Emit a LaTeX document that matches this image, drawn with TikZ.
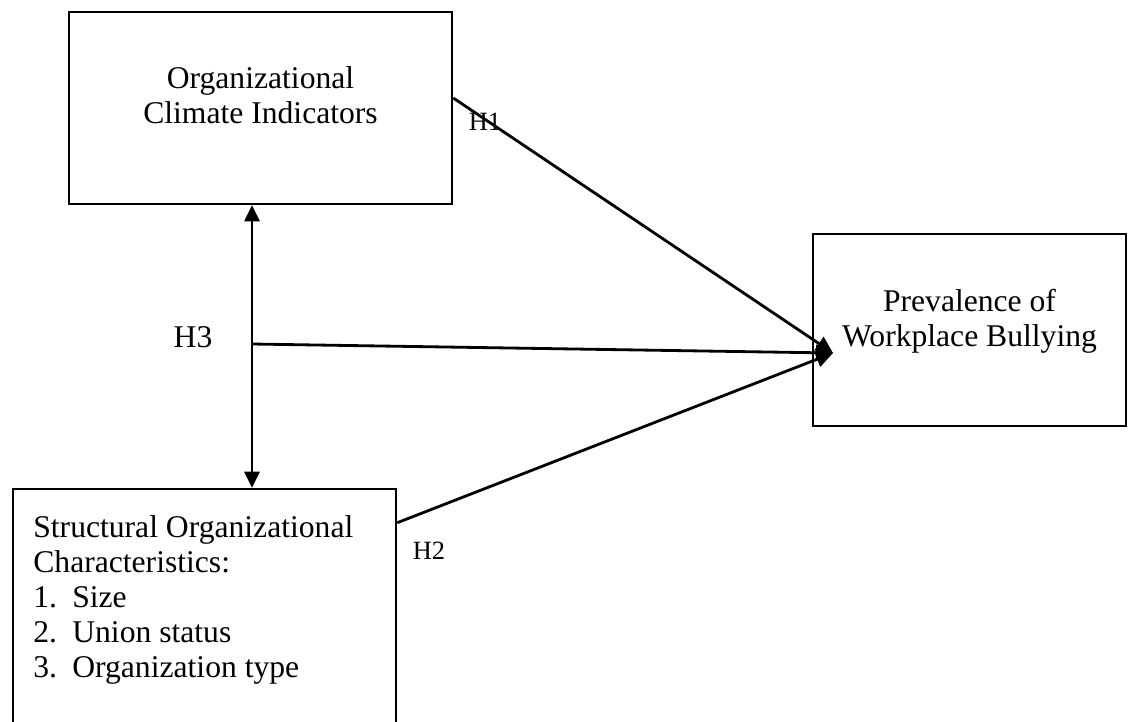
\documentclass[tikz,border=0pt]{standalone}
\usepackage{fontspec}
\setmainfont{Liberation Serif}
\usetikzlibrary{arrows.meta, calc}

\newcommand{\listitem}[2]{\makebox[0.78cm][l]{#1}#2}

\begin{document}
\begin{tikzpicture}[x=0.02cm, y=-0.02cm,
  box/.style={draw, line width=1.5pt, minimum width=7.66cm,
              minimum height=3.84cm, inner sep=0pt},
  txt/.style={inner sep=0pt, font=\fontsize{18}{20}\selectfont},
  hyp/.style={inner sep=0pt, font=\fontsize{15}{17}\selectfont},
  arr/.style={-{Triangle[length=0.34cm, width=0.32cm]}, line width=1.6pt},
  dblarr/.style={{Triangle[length=0.32cm, width=0.3cm]}-{Triangle[length=0.32cm, width=0.3cm]},
                 line width=1.6pt}
]
  \clip (0,0) rectangle (1128,721);

  \node[box] (climate) at (260.5,108) {};
  \node[box, minimum width=6.26cm] (bullying) at (969.5,330) {};
  \node[box, minimum height=6.4cm] (struct) at (204.5,649) {};

  \node[txt, align=center, anchor=north] (climatetxt) at (260.5,66)
        {Organizational\\Climate Indicators};
  \node[txt, align=center, anchor=north] (bullyingtxt) at (969.5,289)
        {Prevalence of\\Workplace Bullying};
  \node[txt, align=left, anchor=north west] (structtxt) at (33,515)
        {Structural Organizational\\Characteristics:\\\listitem{1.}{Size}\\
         \listitem{2.}{Union status}\\\listitem{3.}{Organization type}};

  \coordinate (hub) at (833,353);
  \coordinate (junction) at (252,344);

  \draw[dblarr] (junction |- climate.south) -- (junction |- struct.north);
  \draw[arr] ([yshift=0.2cm]climate.east) -- (hub);
  \draw[arr] (junction) -- (hub);
  \draw[arr] ([yshift=-0.7cm]struct.north east) -- (hub);

  \node[hyp] (h1) at (485,122) {H1};
  \node[hyp] (h2) at (429,551) {H2};
  \node[txt] (h3) at (193,337) {H3};
\end{tikzpicture}
\end{document}
